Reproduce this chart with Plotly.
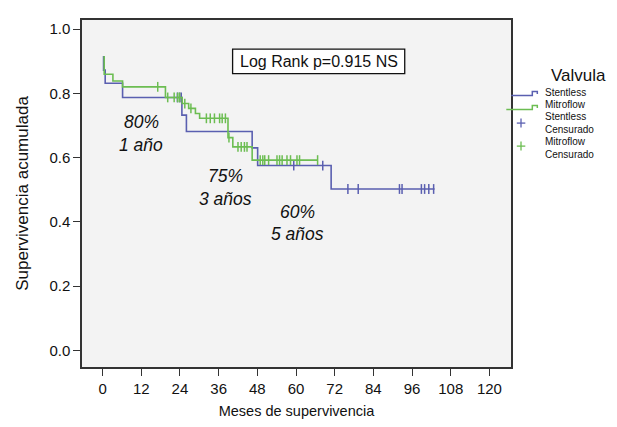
import numpy as np
import plotly.graph_objects as go

# ---------------- data ----------------
months_stentless = [0.3, 0.3, 0.8, 6.2, 24.6, 26.0, 46.4, 48.1, 70.9, 103.0]
surv_stentless = [0.916, 0.872, 0.831, 0.787, 0.732, 0.681, 0.630, 0.575, 0.502, 0.502]
censor_stentless = [23.2, 23.9, 24.4, 59.3, 68.3, 76.1, 79.3, 92.1, 92.9, 98.9, 99.9, 101.2, 102.7]

months_mitroflow = [0.5, 0.5, 3.2, 6.2, 19.5, 24.7, 26.7, 28.8, 30.1, 38.9, 40.4, 46.4, 66.7]
surv_mitroflow = [0.916, 0.859, 0.838, 0.820, 0.787, 0.768, 0.753, 0.737, 0.722, 0.662, 0.633, 0.592, 0.592]
censor_mitroflow = [17.1, 20.2, 22.2, 23.3, 23.9, 25.5, 27.4, 32.2, 33.4, 34.7, 36.3, 37.1, 38.1,
                    39.2, 42.0, 43.0, 44.0, 44.8, 48.9, 49.7, 50.3, 51.5, 54.1, 54.9, 55.7, 57.2,
                    58.3, 60.3, 61.1, 66.7]

x_ticks = [0, 12, 24, 36, 48, 60, 72, 84, 96, 108, 120]
y_ticks = [0.0, 0.2, 0.4, 0.6, 0.8, 1.0]

series_names = ["Stentless", "Mitroflow"]
legend_title = "Valvula"
logrank_text = "Log Rank p=0.915 NS"
milestones = [("80%", "1 año", 12.0, 0.710, 0.639),
              ("75%", "3 años", 38.1, 0.542, 0.470),
              ("60%", "5 años", 60.4, 0.430, 0.361)]

BLUE = "#5a5fb0"
GREEN = "#6cbd52"
FONT = "Liberation Sans, Arial, Helvetica, sans-serif"


def level_at(times, surv, t):
    idx = np.searchsorted(np.asarray(times), np.asarray(t), side="right") - 1
    idx = np.clip(idx, 0, len(surv) - 1)
    return np.asarray(surv)[idx]


fig = go.Figure()
for name, tms, sv, cens, col in [
    ("Stentless", months_stentless, surv_stentless, censor_stentless, BLUE),
    ("Mitroflow", months_mitroflow, surv_mitroflow, censor_mitroflow, GREEN),
]:
    fig.add_trace(go.Scatter(x=tms, y=sv, mode="lines", line=dict(color=col, width=1.6, shape="hv"),
                             name=name, showlegend=False, hoverinfo="skip"))
    fig.add_trace(go.Scatter(x=cens, y=level_at(tms, sv, cens), mode="markers",
                             marker=dict(symbol="line-ns-open", size=7, color=col,
                                         line=dict(color=col, width=1.5)),
                             name=name + " Censurado", showlegend=False, hoverinfo="skip"))

# page geometry (the page body has an 8px margin)
OFF = 8
PAGE_W, PAGE_H = 617, 427
W, H = PAGE_W - 2 * OFF, PAGE_H - 2 * OFF
# target plot frame in page pixels
FL, FR, FT, FB = 82, 510.7, 20, 366.7
L, T = FL - OFF, FT - OFF
R = W - (FR - OFF)
B = H - (FB - OFF)
PW, PH = FR - FL, FB - FT


def px(x):
    return (x - FL) / PW


def py(y):
    return (FB - y) / PH


shapes = []
annotations = []

# Log rank box
shapes.append(dict(type="rect", xref="paper", yref="paper", x0=px(232.5), x1=px(404.5),
                   y0=py(73.5), y1=py(49), line=dict(color="#111", width=1.3), fillcolor="white"))
annotations.append(dict(xref="paper", yref="paper", x=px(318.5), y=py(61.5), text=logrank_text,
                        showarrow=False, font=dict(size=16, color="#111", family=FONT),
                        xanchor="center", yanchor="middle"))

# milestone labels
for pct, yr, xm, y1, y2 in milestones:
    annotations.append(dict(x=xm, y=y1, text="<i>%s</i>" % pct, showarrow=False,
                            font=dict(size=17.5, color="#111", family=FONT)))
    annotations.append(dict(x=xm, y=y2, text="<i>%s</i>" % yr, showarrow=False,
                            font=dict(size=17.5, color="#111", family=FONT)))

# manual legend
annotations.append(dict(xref="paper", yref="paper", x=px(578), y=py(75.5), text=legend_title,
                        showarrow=False, font=dict(size=17, color="#111", family=FONT),
                        xanchor="center", yanchor="middle"))
leg_lines = [("Stentless", 92.5), ("Mitroflow", 104.5),
             ("Stentless<br>Censurado", 122.5), ("Mitroflow<br>Censurado", 147.5)]
for txt, yy in leg_lines:
    annotations.append(dict(xref="paper", yref="paper", x=px(544), y=py(yy), text=txt,
                            showarrow=False, font=dict(size=10, color="#111", family=FONT),
                            xanchor="left", yanchor="middle", align="left", borderpad=0))
# step icons
for col, ylow, yhigh, x0 in [(BLUE, 95.5, 91.5, 511), (GREEN, 109.5, 105.5, 506)]:
    path = "M %f,%f L %f,%f L %f,%f L %f,%f L %f,%f" % (
        px(x0), py(ylow), px(532), py(ylow), px(532), py(yhigh), px(537), py(yhigh), px(537), py(yhigh + 2.5))
    shapes.append(dict(type="path", xref="paper", yref="paper", path=path,
                       line=dict(color=col, width=1.5)))
# plus icons
for col, yc in [(BLUE, 123), (GREEN, 146)]:
    shapes.append(dict(type="line", xref="paper", yref="paper", x0=px(516.5), x1=px(525),
                       y0=py(yc), y1=py(yc), line=dict(color=col, width=1.3)))
    shapes.append(dict(type="line", xref="paper", yref="paper", x0=px(520.7), x1=px(520.7),
                       y0=py(yc - 4.5), y1=py(yc + 4.5), line=dict(color=col, width=1.3)))

axis_common = dict(showgrid=False, zeroline=False, showline=True, mirror=True, linecolor="#333",
                   linewidth=1.5, ticks="outside", ticklen=7, tickwidth=1.3, tickcolor="#333",
                   automargin=False, tickfont=dict(size=15, color="#111", family=FONT))

fig.update_layout(
    width=W, height=H,
    margin=dict(l=L, r=R, t=T, b=B, pad=0, autoexpand=False),
    paper_bgcolor="white", plot_bgcolor="#f3f3f3",
    showlegend=False,
    shapes=shapes, annotations=annotations,
    xaxis=dict(range=[-6.39, 126.7], tickvals=x_ticks, ticktext=[str(v) for v in x_ticks],
               title=dict(text="Meses de supervivencia", font=dict(size=14.5, color="#111", family=FONT), standoff=12),
               **axis_common),
    yaxis=dict(range=[-0.052, 1.028], tickvals=y_ticks, ticktext=["%.1f" % v for v in y_ticks],
               title=dict(text="Supervivencia acumulada", font=dict(size=17, color="#111", family=FONT), standoff=16),
               **axis_common),
)

fig.write_html("out.html")
